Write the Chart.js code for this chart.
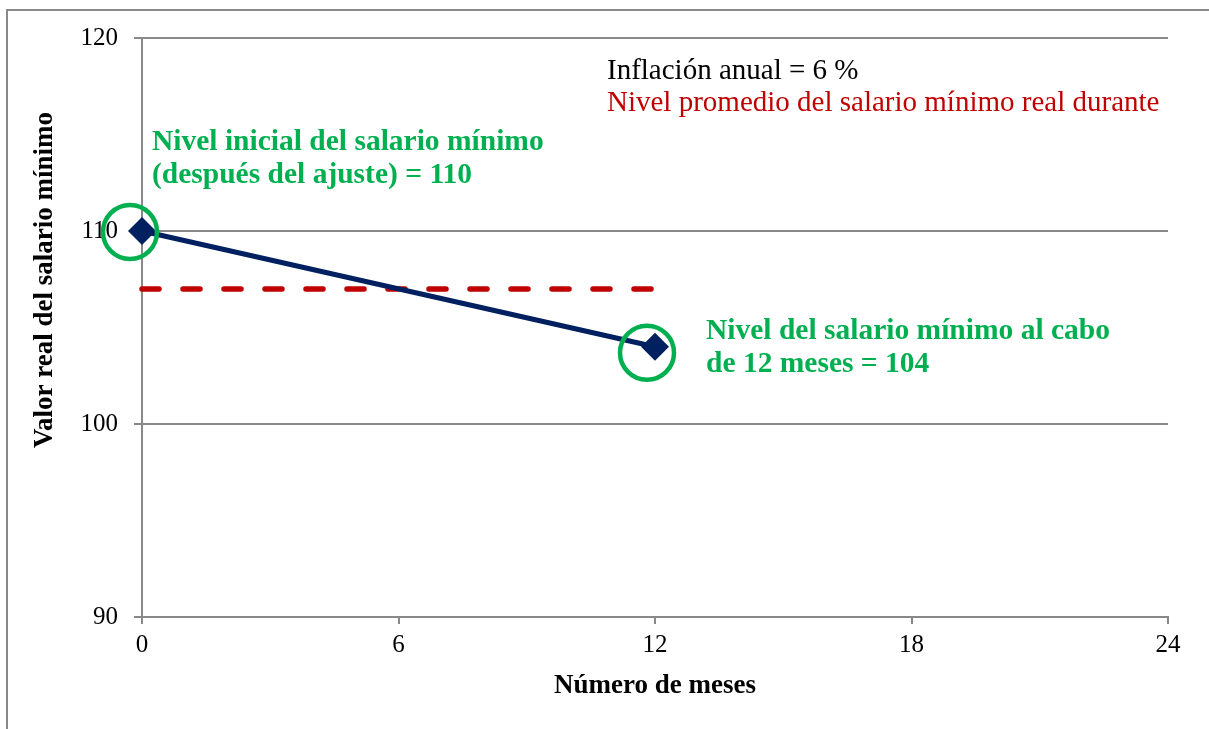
<!DOCTYPE html>
<html>
<head>
<meta charset="utf-8">
<script src="https://cdn.jsdelivr.net/npm/chart.js@4.4.1/dist/chart.umd.min.js"></script>
<style>
  html, body { margin: 0; padding: 0; background: #fff; overflow: hidden; }
  #wrap { width: 1209px; height: 729px; position: relative; }
</style>
</head>
<body>
<div id="wrap"><canvas id="salarioChart"></canvas></div>
<script>
// Datos
var meses = [0, 12];
var salarioReal = [110, 104];
var promedioMeses = [0, 12];
var promedioValor = [107, 107];
var xTicks = [0, 6, 12, 18, 24];
var yTicks = [90, 100, 110, 120];

var textoInflacion = "Inflación anual = 6 %";
var textoPromedio = "Nivel promedio del salario mínimo real durante";
var textoInicial = ["Nivel inicial del salario mínimo", "(después del ajuste) = 110"];
var textoFinal = ["Nivel del salario mínimo al cabo", "de 12 meses = 104"];
var tituloX = "Número de meses";
var tituloY = "Valor real del salario mínimo";

var SERIF = '"Liberation Serif", "Times New Roman", serif';
var GRIS = '#898989';
var VERDE = '#00B050';
var ROJO = '#C00000';
var AZUL = '#002060';

function toPoints(xs, ys) {
    return xs.map((x, i) => ({ x: x, y: ys[i] }));
}

// Marco, círculos verdes y textos
const anotaciones = {
    id: 'anotaciones',
    beforeDraw(chart) {
        const ctx = chart.ctx;
        ctx.save();
        ctx.fillStyle = '#fff';
        ctx.fillRect(0, 0, chart.width, chart.height);
        ctx.strokeStyle = GRIS;
        ctx.lineWidth = 2;
        ctx.strokeRect(7, 10, chart.width + 20, chart.height + 20);
        ctx.restore();
    },
    afterDatasetsDraw(chart) {
        const ctx = chart.ctx;
        const xs = chart.scales.x, ys = chart.scales.y;
        const offsets = [[-12, 1], [-8, 6]];
        ctx.save();
        ctx.strokeStyle = VERDE;
        ctx.lineWidth = 4.5;
        meses.forEach((m, i) => {
            const px = xs.getPixelForValue(m) + offsets[i][0];
            const py = ys.getPixelForValue(salarioReal[i]) + offsets[i][1];
            ctx.beginPath();
            ctx.arc(px, py, 27, 0, Math.PI * 2);
            ctx.stroke();
        });

        ctx.textAlign = 'left';
        ctx.textBaseline = 'alphabetic';
        ctx.font = '29px ' + SERIF;
        ctx.fillStyle = '#000';
        ctx.fillText(textoInflacion, 607, 79);
        ctx.fillStyle = ROJO;
        ctx.fillText(textoPromedio, 607, 111);

        ctx.font = 'bold 29.5px ' + SERIF;
        ctx.fillStyle = VERDE;
        textoInicial.forEach((t, i) => ctx.fillText(t, 152, 150 + i * 33));
        textoFinal.forEach((t, i) => ctx.fillText(t, 706, 339 + i * 33));

        ctx.translate(45, 280);
        ctx.rotate(-Math.PI / 2);
        ctx.textAlign = 'center';
        ctx.textBaseline = 'middle';
        ctx.font = 'bold 27px ' + SERIF;
        ctx.fillStyle = '#000';
        ctx.fillText(tituloY, 0, 0);
        ctx.restore();
    }
};

new Chart("salarioChart", {
    type: "scatter",
    data: {
        datasets: [{
            data: toPoints(promedioMeses, promedioValor),
            showLine: true,
            borderColor: ROJO,
            borderWidth: 5.5,
            borderDash: [17, 24],
            borderCapStyle: 'round',
            pointRadius: 0,
            clip: false,
            order: 2
        }, {
            data: toPoints(meses, salarioReal),
            showLine: true,
            borderColor: AZUL,
            borderWidth: 5,
            backgroundColor: AZUL,
            pointStyle: 'rectRot',
            pointRadius: 14,
            pointBorderWidth: 0,
            clip: false,
            order: 1
        }]
    },
    options: {
        responsive: true,
        maintainAspectRatio: false,
        animation: false,
        layout: { padding: { top: 38, right: 41, left: 0, bottom: 0 } },
        plugins: {
            legend: { display: false },
            tooltip: { enabled: false }
        },
        scales: {
            x: {
                type: 'linear',
                min: xTicks[0],
                max: xTicks[xTicks.length - 1],
                afterBuildTicks: s => { s.ticks = xTicks.map(v => ({ value: v })); },
                afterFit: s => { s.height = 112; },
                grid: { drawOnChartArea: false, drawTicks: true, tickLength: 7, color: GRIS, lineWidth: 2 },
                border: { color: GRIS, width: 2 },
                ticks: { color: '#000', font: { family: SERIF, size: 25 }, padding: 6, maxRotation: 0 },
                title: {
                    display: true,
                    text: tituloX,
                    color: '#000',
                    font: { family: SERIF, size: 27, weight: 'bold' },
                    padding: { top: 0, bottom: 27 }
                }
            },
            y: {
                min: yTicks[0],
                max: yTicks[yTicks.length - 1],
                afterBuildTicks: s => { s.ticks = yTicks.map(v => ({ value: v })); },
                afterFit: s => { s.width = 142; },
                grid: { color: GRIS, lineWidth: 2, drawTicks: true, tickLength: 8 },
                border: { color: GRIS, width: 2 },
                ticks: { color: '#000', font: { family: SERIF, size: 25 }, padding: 16 }
            }
        }
    },
    plugins: [anotaciones]
});
</script>
</body>
</html>
